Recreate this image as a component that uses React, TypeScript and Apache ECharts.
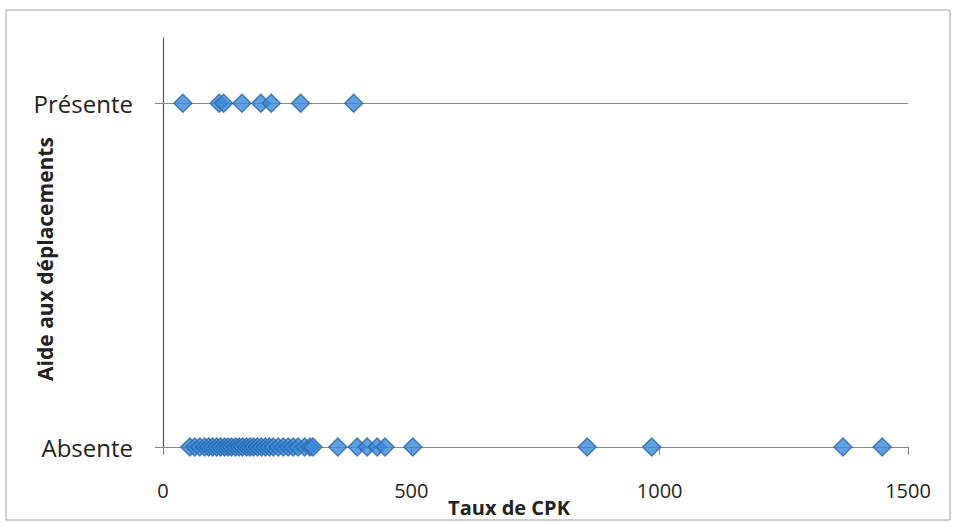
import React, { useEffect, useRef } from "react";
import * as echarts from "echarts";

const presenteCPK = [40, 113, 122, 159, 197, 218, 277, 384];
const absenteCPK = [
  54, 64, 74, 84, 92, 100, 108, 116, 124, 131, 138, 146, 153, 160, 168, 175,
  182, 190, 198, 206, 214, 222, 232, 242, 252, 262, 272, 285, 296, 302,
  352, 391, 411, 431, 447, 503, 854, 984, 1369, 1448,
];
const yCategories = ["Absente", "Présente"];
const xTicks = [0, 500, 1000, 1500];

export default function App() {
  const ref = useRef<HTMLDivElement>(null);
  useEffect(() => {
    if (!ref.current) return;
    const chart = echarts.init(ref.current, null, { renderer: "svg" });
    const font = "'Open Sans', sans-serif";
    const pts = (arr: number[], y: number) => arr.map((x) => [x, y]);
    chart.setOption({
      animation: false,
      backgroundColor: "#ffffff",
      grid: { left: 163, right: 46, top: 38, bottom: 76 },
      xAxis: {
        type: "value",
        min: xTicks[0],
        max: xTicks[xTicks.length - 1],
        interval: 500,
        axisLine: { show: true, lineStyle: { color: "#8a8a8a", width: 1 } },
        axisTick: { show: true, length: 8, lineStyle: { color: "#8a8a8a" } },
        axisLabel: {
          margin: 33,
          fontSize: 20,
          color: "#222",
          fontFamily: font,
          formatter: (v: number) => String(v),
        },
        splitLine: { show: false },
      },
      yAxis: {
        type: "value",
        min: 0,
        max: 1.19,
        interval: 1,
        axisLine: { show: true, lineStyle: { color: "#555", width: 1.2 } },
        axisTick: { show: true, length: 8, customValues: [0, 1], lineStyle: { color: "#8a8a8a" } },
        axisLabel: {
          margin: 30,
          fontSize: 24,
          color: "#222",
          fontFamily: font,
          customValues: [0, 1],
          formatter: (v: number) => (v === 0 ? yCategories[0] : v === 1 ? yCategories[1] : ""),
        },
        splitLine: { show: false },
      },
      graphic: [
        {
          type: "rect",
          shape: { x: 6, y: 10, width: 944, height: 510 },
          style: { fill: "none", stroke: "#a0a0a0", lineWidth: 1 },
          silent: true,
        },
        {
          type: "text",
          x: 45,
          y: 259,
          rotation: Math.PI / 2,
          style: {
            text: "Aide aux déplacements",
            fontSize: 21,
            fontWeight: "bold",
            fontFamily: font,
            fill: "#222",
            align: "center",
            verticalAlign: "middle",
          },
        },
        {
          type: "text",
          x: 509,
          y: 507,
          style: {
            text: "Taux de CPK",
            fontSize: 20,
            fontWeight: "bold",
            fontFamily: font,
            fill: "#222",
            align: "center",
            verticalAlign: "middle",
          },
        },
      ],
      series: [
        {
          type: "scatter",
          name: "Absente",
          data: pts(absenteCPK, 0),
          symbol: "diamond",
          symbolSize: 18,
          itemStyle: { color: "#3a88d8", borderColor: "#2866a8", borderWidth: 1.5 },
        },
        {
          type: "scatter",
          name: "Présente",
          data: pts(presenteCPK, 1),
          symbol: "diamond",
          symbolSize: 18,
          itemStyle: { color: "#3a88d8", borderColor: "#2866a8", borderWidth: 1.5 },
          z: 3,
          markLine: {
            silent: true,
            symbol: "none",
            label: { show: false },
            lineStyle: { color: "#8a8a8a", type: "solid", width: 1 },
            data: [{ yAxis: 1 }],
            z: 1,
          },
        },
      ],
    });
    return () => chart.dispose();
  }, []);
  return (
    <div
      ref={ref}
      style={{ position: "absolute", left: 0, top: 0, width: 954, height: 523 }}
    />
  );
}
